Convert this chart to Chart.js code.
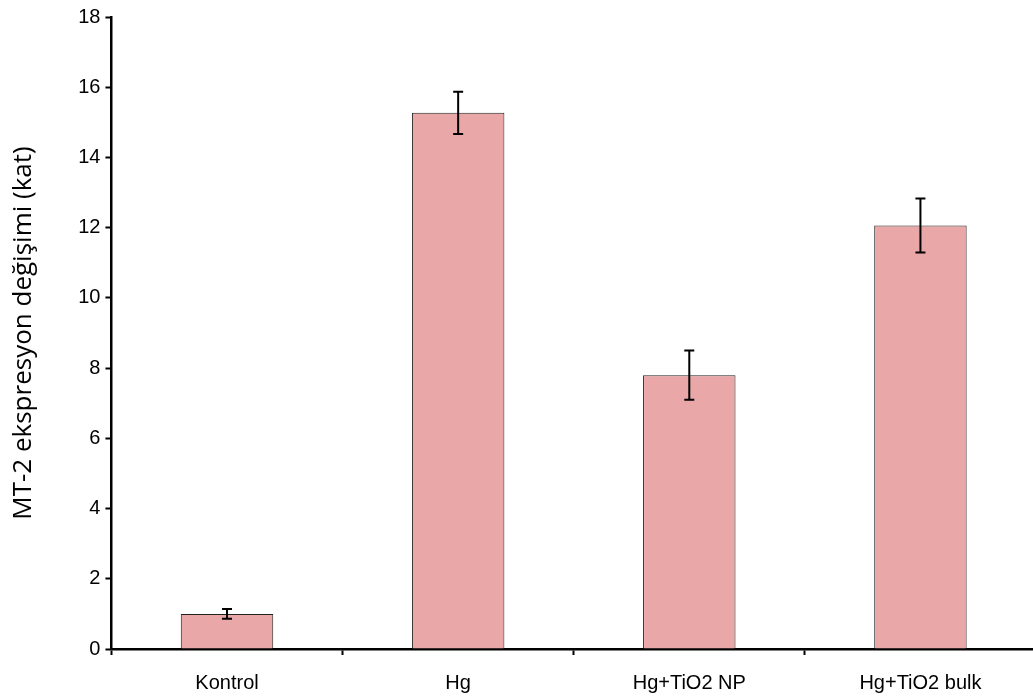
<!DOCTYPE html>
<html>
<head>
<meta charset="utf-8">
<script src="https://cdn.jsdelivr.net/npm/chart.js@4"></script>
<style>
  html, body { margin: 0; padding: 0; background: #fff; overflow: hidden; }
  #wrap { width: 1036px; height: 697px; }
</style>
</head>
<body>
<div id="wrap"><canvas id="chart"></canvas></div>
<script>
var categories = ["Kontrol", "Hg", "Hg+TiO2 NP", "Hg+TiO2 bulk"];
var values = [1.0, 15.27, 7.8, 12.06];
var errors = [0.14, 0.6, 0.7, 0.77];
var yTicks = [0, 2, 4, 6, 8, 10, 12, 14, 16, 18];

// error bars drawn with the chart's own scales
const errorBars = {
    id: "errorBars",
    afterDatasetsDraw(chart) {
        const ctx = chart.ctx;
        const meta = chart.getDatasetMeta(0);
        const y = chart.scales.y;
        ctx.save();
        ctx.strokeStyle = "#000";
        ctx.lineWidth = 2;
        meta.data.forEach(function (bar, i) {
            const x = bar.x;
            const top = y.getPixelForValue(values[i] + errors[i]);
            const bot = y.getPixelForValue(values[i] - errors[i]);
            ctx.beginPath();
            ctx.moveTo(x, top); ctx.lineTo(x, bot);
            ctx.moveTo(x - 5, top); ctx.lineTo(x + 5, top);
            ctx.moveTo(x - 5, bot); ctx.lineTo(x + 5, bot);
            ctx.stroke();
        });
        ctx.restore();
    }
};

new Chart(document.getElementById("chart"), {
    type: "bar",
    data: {
        labels: categories,
        datasets: [{
            data: values,
            backgroundColor: "#E9A7A7",
            borderColor: "#222",
            borderWidth: 1,
            barPercentage: 0.4,
            categoryPercentage: 1.0
        }]
    },
    options: {
        responsive: true,
        maintainAspectRatio: false,
        animation: false,
        layout: { padding: { top: 13, left: 0, right: 0, bottom: 0 } },
        plugins: {
            legend: { display: false },
            tooltip: { enabled: false }
        },
        scales: {
            x: {
                afterFit: function (scale) { scale.height = 48; },
                grid: {
                    offset: true,
                    drawOnChartArea: false,
                    drawTicks: true,
                    tickLength: 6,
                    color: "#000",
                    tickWidth: 2
                },
                border: { color: "#000", width: 2.5 },
                ticks: {
                    color: "#000",
                    font: { family: "Liberation Sans", size: 20 },
                    padding: 16
                }
            },
            y: {
                min: 0,
                max: 18,
                afterBuildTicks: function (axis) {
                    axis.ticks = yTicks.map(function (v) { return { value: v }; });
                },
                grid: {
                    drawOnChartArea: false,
                    drawTicks: true,
                    tickLength: 6,
                    color: "#000",
                    tickWidth: 2
                },
                border: { color: "#000", width: 2.5 },
                ticks: {
                    color: "#000",
                    font: { family: "Liberation Sans", size: 20 },
                    padding: 5
                },
                title: {
                    display: true,
                    text: "MT-2 ekspresyon değişimi (kat)",
                    color: "#000",
                    font: { family: "Open Sans", size: 26 },
                    padding: { top: 8, bottom: 34 }
                }
            }
        }
    },
    plugins: [errorBars]
});
</script>
</body>
</html>
